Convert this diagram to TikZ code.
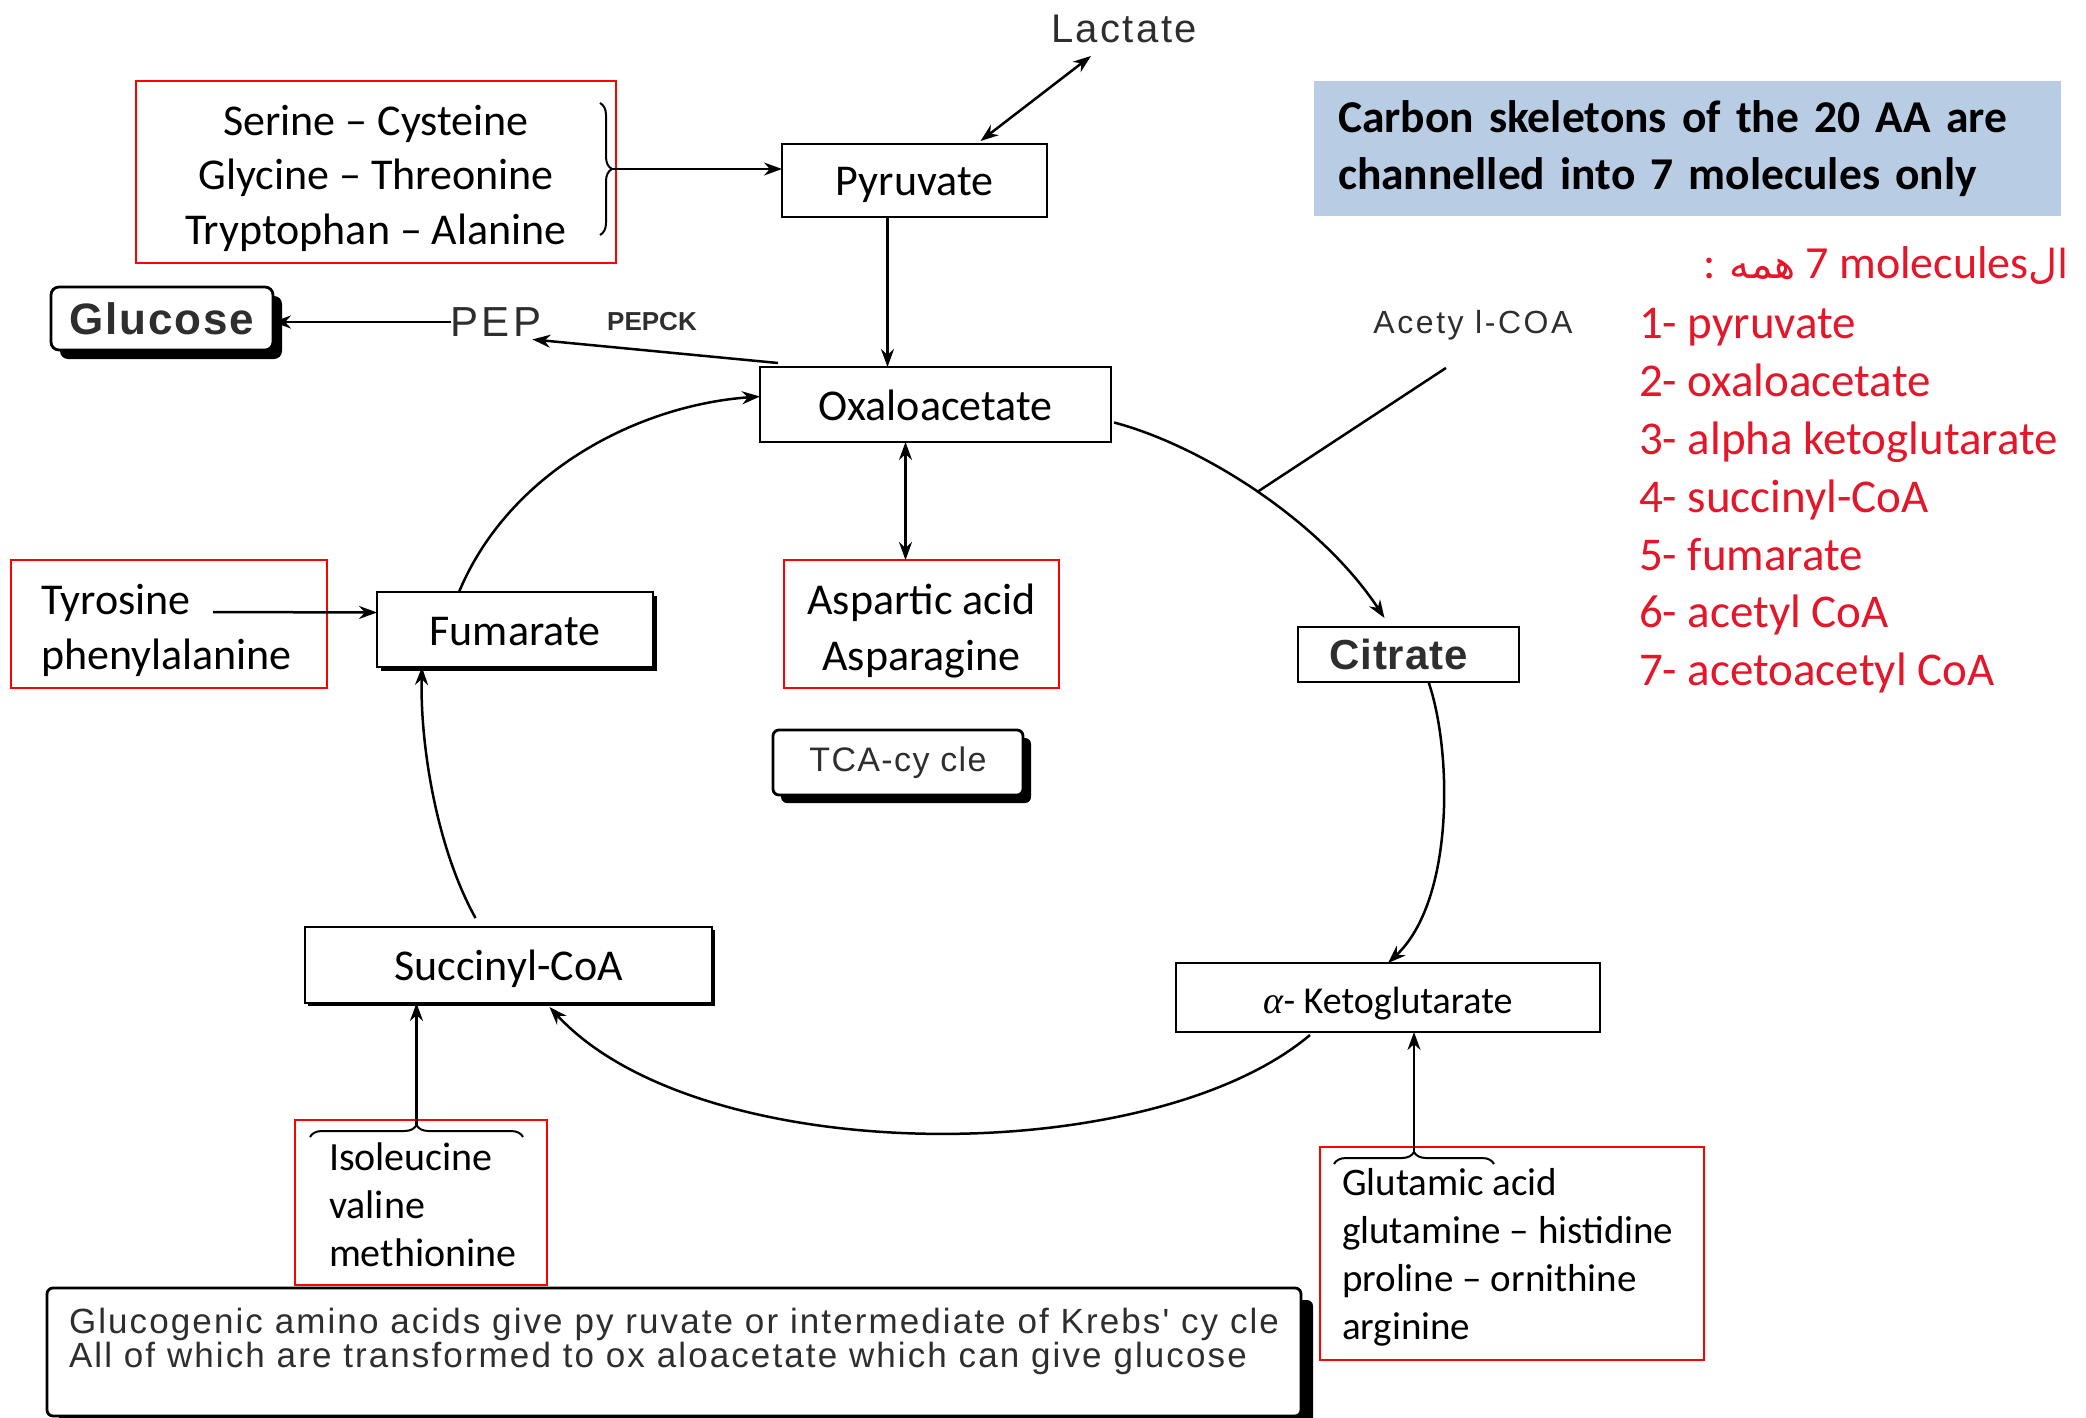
\documentclass[tikz,border=0pt]{standalone}
\usepackage{fontspec}
\setmainfont{Carlito}
\newfontfamily\arialf{Liberation Sans}
\newfontfamily\serifit{Liberation Serif}
\newfontfamily\arabicfont[Script=Arabic]{DejaVu Sans}
\usetikzlibrary{arrows.meta,calc,decorations.pathreplacing,shadows}
\TeXXeTstate=1
\definecolor{redbox}{RGB}{255,0,0}
\definecolor{redtxt}{RGB}{228,22,42}
\definecolor{bluebg}{RGB}{184,204,228}
\newcommand{\fsz}[2]{\fontsize{#1}{#2}\selectfont}
\begin{document}
\begin{tikzpicture}[x=1pt,y=-1pt,
  every node/.style={inner sep=0pt, outer sep=0pt},
  bbox/.style={draw=black, line width=2.8pt, font=\fsz{44}{53}, text height=34pt, text depth=3pt},
  rbox/.style={draw=redbox, line width=2.2pt},
  plainln/.style={line width=2.5pt},
  conn/.style={line width=2.5pt, -{Stealth[length=18pt,width=13pt]}},
  dconn/.style={line width=2.5pt, {Stealth[length=18pt,width=13pt]}-{Stealth[length=18pt,width=13pt]}},
  brc/.style={line width=2pt, decorate, decoration={brace, amplitude=12pt}},
  gtxt/.style={text=black!82},
  shad/.style={drop shadow={shadow xshift=#1, shadow yshift=-#1, opacity=1, fill=black}},
]
\useasboundingbox (0,0) rectangle (2086,1418);

% ---- main boxes
\node[bbox, minimum width=265pt, minimum height=73pt] (pyr) at (914.5,180.5) {Pyruvate};
\node[bbox, minimum width=351pt, minimum height=75pt] (oaa) at (935.5,404.5) {Oxaloacetate};
\node[bbox, fill=white, minimum width=276pt, minimum height=75pt, shad=4pt] (fum) at (515,629.5) {Fumarate};
\node[bbox, fill=white, minimum width=407pt, minimum height=76pt, shad=3pt] (suc) at (508.5,965) {Succinyl-CoA};
\node[bbox, minimum width=424pt, minimum height=69pt, font=\fsz{38}{46}] (akg) at (1388,997.5) {{\serifit\itshape α}- Ketoglutarate};
\node[draw, line width=2.8pt, minimum width=221pt, minimum height=55pt] (cit) at (1408.5,654.5) {};
\node[gtxt, font={\arialf\bfseries\fsz{42}{42}\addfontfeature{LetterSpace=2}}] (cittxt) at ($(cit.center)+(-10,0)$) {Citrate};
\node[draw, line width=2.8pt, rounded corners=8pt, fill=white, shad=9pt, minimum width=222pt, minimum height=63pt, gtxt, font={\arialf\bfseries\fsz{44}{44}\addfontfeature{LetterSpace=4}}] (glu) at (162,318.5) {Glucose};
\node[draw, line width=2.8pt, rounded corners=6pt, fill=white, shad=8pt, minimum width=250pt, minimum height=65pt, gtxt, font={\arialf\fsz{34}{34}\addfontfeature{LetterSpace=4}}] (tca) at (898,762.5) {TCA-cy cle};

% ---- plain labels
\node[gtxt, font={\arialf\fsz{40}{40}\addfontfeature{LetterSpace=6}}] (lac) at (1124,29) {Lactate};
\node[gtxt, font={\arialf\fsz{42}{42}\addfontfeature{LetterSpace=8}}] (pep) at (496,322) {PEP};
\node[gtxt, font={\arialf\bfseries\fsz{26}{26}}] (pepck) at (652,322) {PEPCK};
\node[gtxt, font={\arialf\fsz{32}{32}\addfontfeature{LetterSpace=8}}] (acoa) at (1473,325) {Acety l-COA};

% ---- red boxes
\node[rbox, minimum width=480pt, minimum height=182pt] (ser) at (376,172) {};
\node[align=center, font=\fsz{44}{54.5}] (sertxt) at ($(ser.center)+(0,6)$) {Serine – Cysteine\\Glycine – Threonine\\Tryptophan – Alanine};
\node[rbox, minimum width=275pt, minimum height=128pt] (asp) at (921.5,624) {};
\node[align=center, font=\fsz{44}{55}] (asptxt) at ($(asp.center)+(0,7)$) {Aspartic acid\\Asparagine};
\node[rbox, minimum width=316pt, minimum height=128pt] (tyr) at (169,624) {};
\node[anchor=west, align=left, font=\fsz{44}{55}] (tyrtxt) at ($(tyr.west)+(30,6)$) {Tyrosine\\phenylalanine};
\node[rbox, minimum width=252pt, minimum height=165pt] (ile) at (421,1202.5) {};
\node[anchor=west, align=left, font=\fsz{40}{48}] (iletxt) at ($(ile.west)+(34,2)$) {Isoleucine\\valine\\methionine};
\node[rbox, minimum width=384pt, minimum height=213pt] (glut) at (1512,1253.5) {};
\node[anchor=west, align=left, font=\fsz{39}{48}] (gluttxt) at ($(glut.west)+(22,4)$) {Glutamic acid\\glutamine – histidine\\proline – ornithine\\arginine};

% ---- bottom note
\node[draw, line width=2.8pt, rounded corners=6pt, fill=white, shad=12pt, minimum width=1254pt, minimum height=128pt] (bot) at (674,1352) {};
\node[anchor=west, align=left, gtxt, font={\arialf\fsz{35}{34}\addfontfeature{LetterSpace=6}}] (bottxt) at (69,1341) {Glucogenic amino acids give py ruvate or intermediate of Krebs' cy cle\\All of which are transformed to ox aloacetate which can give glucose};

% ---- blue title and red list
\node[fill=bluebg, minimum width=747pt, minimum height=135pt, text width=699pt, inner xsep=24pt, align=left, font=\bfseries\fsz{45.5}{57}] (blue) at (1687.5,148.5) {Carbon skeletons of the 20 AA are\\channelled into 7 molecules only};
\node[anchor=east, text=redtxt, font=\fsz{46}{55}] (hdr) at (2069,266) {: {\arabicfont\fsz{40}{48}\beginR همه\endR} 7 molecules{\arabicfont\fsz{40}{48}\beginR ال\endR}};
\node[anchor=west, align=left, text=redtxt, font=\fsz{47}{57.8}] (list) at (1639,501) {1- pyruvate\\2- oxaloacetate\\3- alpha ketoglutarate\\4- succinyl-CoA\\5- fumarate\\6- acetyl CoA\\7- acetoacetyl CoA};

% ---- braces
\coordinate (serT) at ($(ser.north east)+(-16,22)$);
\coordinate (serB) at ($(ser.south east)+(-16,-28)$);
\draw[brc] (serT) -- (serB);
\coordinate (sertip) at ($(serT)!0.5!(serB)+(12,0)$);

\coordinate (ileL) at ($(ile.north west)+(15,17)$);
\coordinate (ileR) at ($(ile.north west)+(228,17)$);
\draw[brc] (ileL) -- (ileR);
\coordinate (iletip) at ($(ileL)!0.5!(ileR)+(0,-12)$);

\coordinate (glutL) at ($(glut.north west)+(14,17)$);
\coordinate (glutR) at ($(glut.north west)+(174,17)$);
\draw[brc] (glutL) -- (glutR);
\coordinate (gluttip) at ($(glutL)!0.5!(glutR)+(0,-12)$);

% ---- connectors
\draw[dconn] ($(lac.south)+(-33,13)$) -- ($(pyr.north)+(66,-3)$);
\draw[conn] (sertip) -- (sertip -| pyr.west);
\coordinate (pyrB) at ($(pyr.south)+(-27,0)$);
\draw[conn] (pyrB) -- (pyrB |- oaa.north);
\draw[conn] (pep.west) -- (pep.west -| glu.east);
\draw[conn] ($(oaa.north west)+(18,-4)$) -- ($(pep.south east)+(-9,3)$);
\coordinate (oaaB) at ($(oaa.south)+(-30,0)$);
\draw[dconn] (oaaB) -- (oaaB |- asp.north);
\draw[conn] ($(fum.north)+(-56,0)$) .. controls (510,470) and (640,405) .. ($(oaa.west)+(0,-8)$);
\draw[conn] ($(tyr.west)+(202,-12)$) -- ($(fum.west)+(0,-17)$);
\draw[conn] ($(suc.north)+(-33,-9)$) .. controls (435,845) and (420,740) .. ($(fum.south)+(-93,0)$);
\draw[conn] ($(oaa.east)+(3,18)$) .. controls (1200,445) and (1320,520) .. ($(cit.north)+(-24,-9)$) coordinate[pos=0.5] (join);
\draw[plainln] ($(acoa.south)+(-27,28)$) -- (join);
\draw[conn] ($(cit.south)+(20,0)$) .. controls (1452,750) and (1455,900) .. (akg.north);
\draw[conn] ($(akg.south)+(-78,3)$) .. controls (1150,1170) and (700,1170) .. ($(suc.south)+(41,4)$);
\draw[conn] (iletip) -- (iletip |- suc.south);
\draw[conn] (gluttip) -- (gluttip |- akg.south);
\end{tikzpicture}
\end{document}
